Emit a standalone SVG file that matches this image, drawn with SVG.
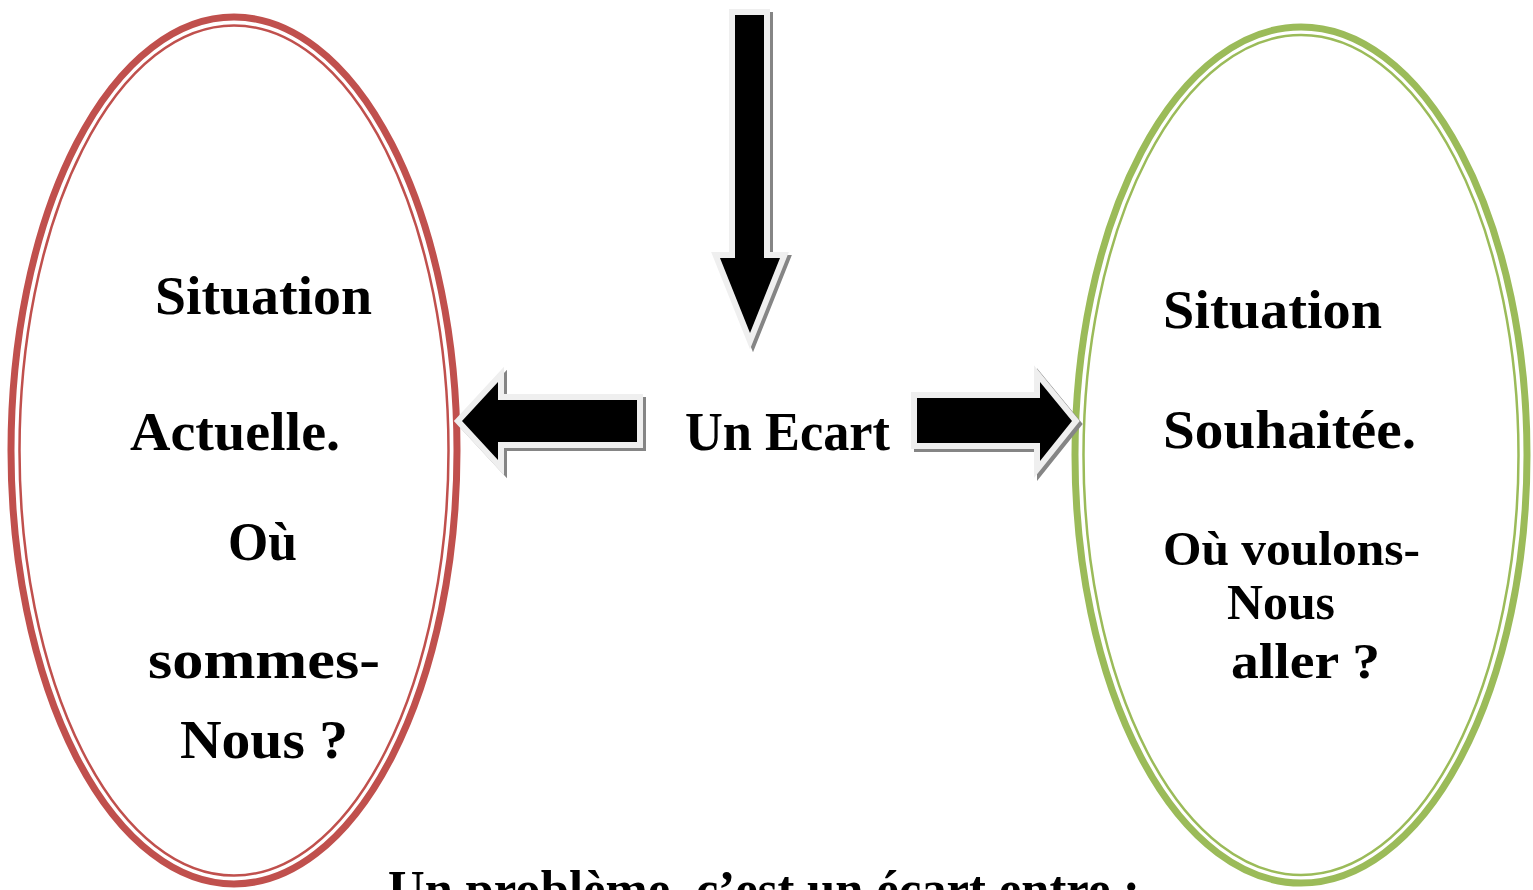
<svg xmlns="http://www.w3.org/2000/svg" width="1533" height="890" viewBox="0 0 1533 890">
<defs>
<style>
.t{font-family:"Liberation Serif","DejaVu Serif",serif;font-weight:bold;fill:#000;font-size:55px}
.red{fill:none;stroke:#C0504D}
.green{fill:none;stroke:#9BBB59}
.shadow{fill:#858585;stroke:#858585;stroke-width:12;stroke-linejoin:miter;stroke-miterlimit:10}
.arrow{fill:#000;stroke:#efefef;stroke-width:12;stroke-linejoin:miter;stroke-miterlimit:10;paint-order:stroke}
</style>
</defs>
<rect width="1533" height="890" fill="#fff"/>
<g id="situation-actuelle">
<ellipse class="red" cx="234" cy="450.5" rx="223" ry="433.5" stroke-width="7"/>
<ellipse class="red" cx="234" cy="450.5" rx="214.5" ry="425" stroke-width="2.5"/>
<text class="t" x="155" y="314" textLength="217" lengthAdjust="spacingAndGlyphs">Situation</text>
<text class="t" x="130" y="450" textLength="210" lengthAdjust="spacingAndGlyphs">Actuelle.</text>
<text class="t" x="228" y="560" textLength="69" lengthAdjust="spacingAndGlyphs">Où</text>
<text class="t" x="148" y="678" textLength="232" lengthAdjust="spacingAndGlyphs">sommes-</text>
<text class="t" x="180" y="758" textLength="168" lengthAdjust="spacingAndGlyphs">Nous ?</text>
</g>
<g id="situation-souhaitee">
<ellipse class="green" cx="1301" cy="455" rx="226" ry="428" stroke-width="7"/>
<ellipse class="green" cx="1301" cy="455" rx="217.5" ry="420" stroke-width="2.5"/>
<text class="t" x="1163" y="328" textLength="219" lengthAdjust="spacingAndGlyphs">Situation</text>
<text class="t" x="1163" y="448" textLength="253" lengthAdjust="spacingAndGlyphs">Souhaitée.</text>
<text class="t" x="1163" y="565" textLength="257" lengthAdjust="spacingAndGlyphs" style="font-size:49px">Où voulons-</text>
<text class="t" x="1227" y="619" textLength="108" lengthAdjust="spacingAndGlyphs" style="font-size:51px">Nous</text>
<text class="t" x="1231" y="678" textLength="149" lengthAdjust="spacingAndGlyphs" style="font-size:51px">aller ?</text>
</g>
<g id="ecart">
<text class="t" x="685" y="450" textLength="205" lengthAdjust="spacingAndGlyphs">Un Ecart</text>
</g>
<g id="definition">
<text class="t" x="388" y="907" textLength="752" lengthAdjust="spacingAndGlyphs" style="font-size:52px">Un problème, c’est un écart entre :</text>
</g>
<g id="connectors">
<g id="arrow-down">
<polygon class="shadow" transform="translate(3,3)" points="735,15 764,15 764,258 780,258 750,333 720,258 735,258"/>
<polygon class="arrow" points="735,15 764,15 764,258 780,258 750,333 720,258 735,258"/>
</g>
<g id="arrow-left">
<polygon class="shadow" transform="translate(3,3)" points="462,421 498,382 498,400 637,400 637,442 498,442 498,460"/>
<polygon class="arrow" points="462,421 498,382 498,400 637,400 637,442 498,442 498,460"/>
</g>
<g id="arrow-right">
<polygon class="shadow" transform="translate(3,3)" points="917,398 1040,398 1040,382 1072,421 1040,461 1040,443 917,443"/>
<polygon class="arrow" points="917,398 1040,398 1040,382 1072,421 1040,461 1040,443 917,443"/>
</g>
</g>
</svg>
